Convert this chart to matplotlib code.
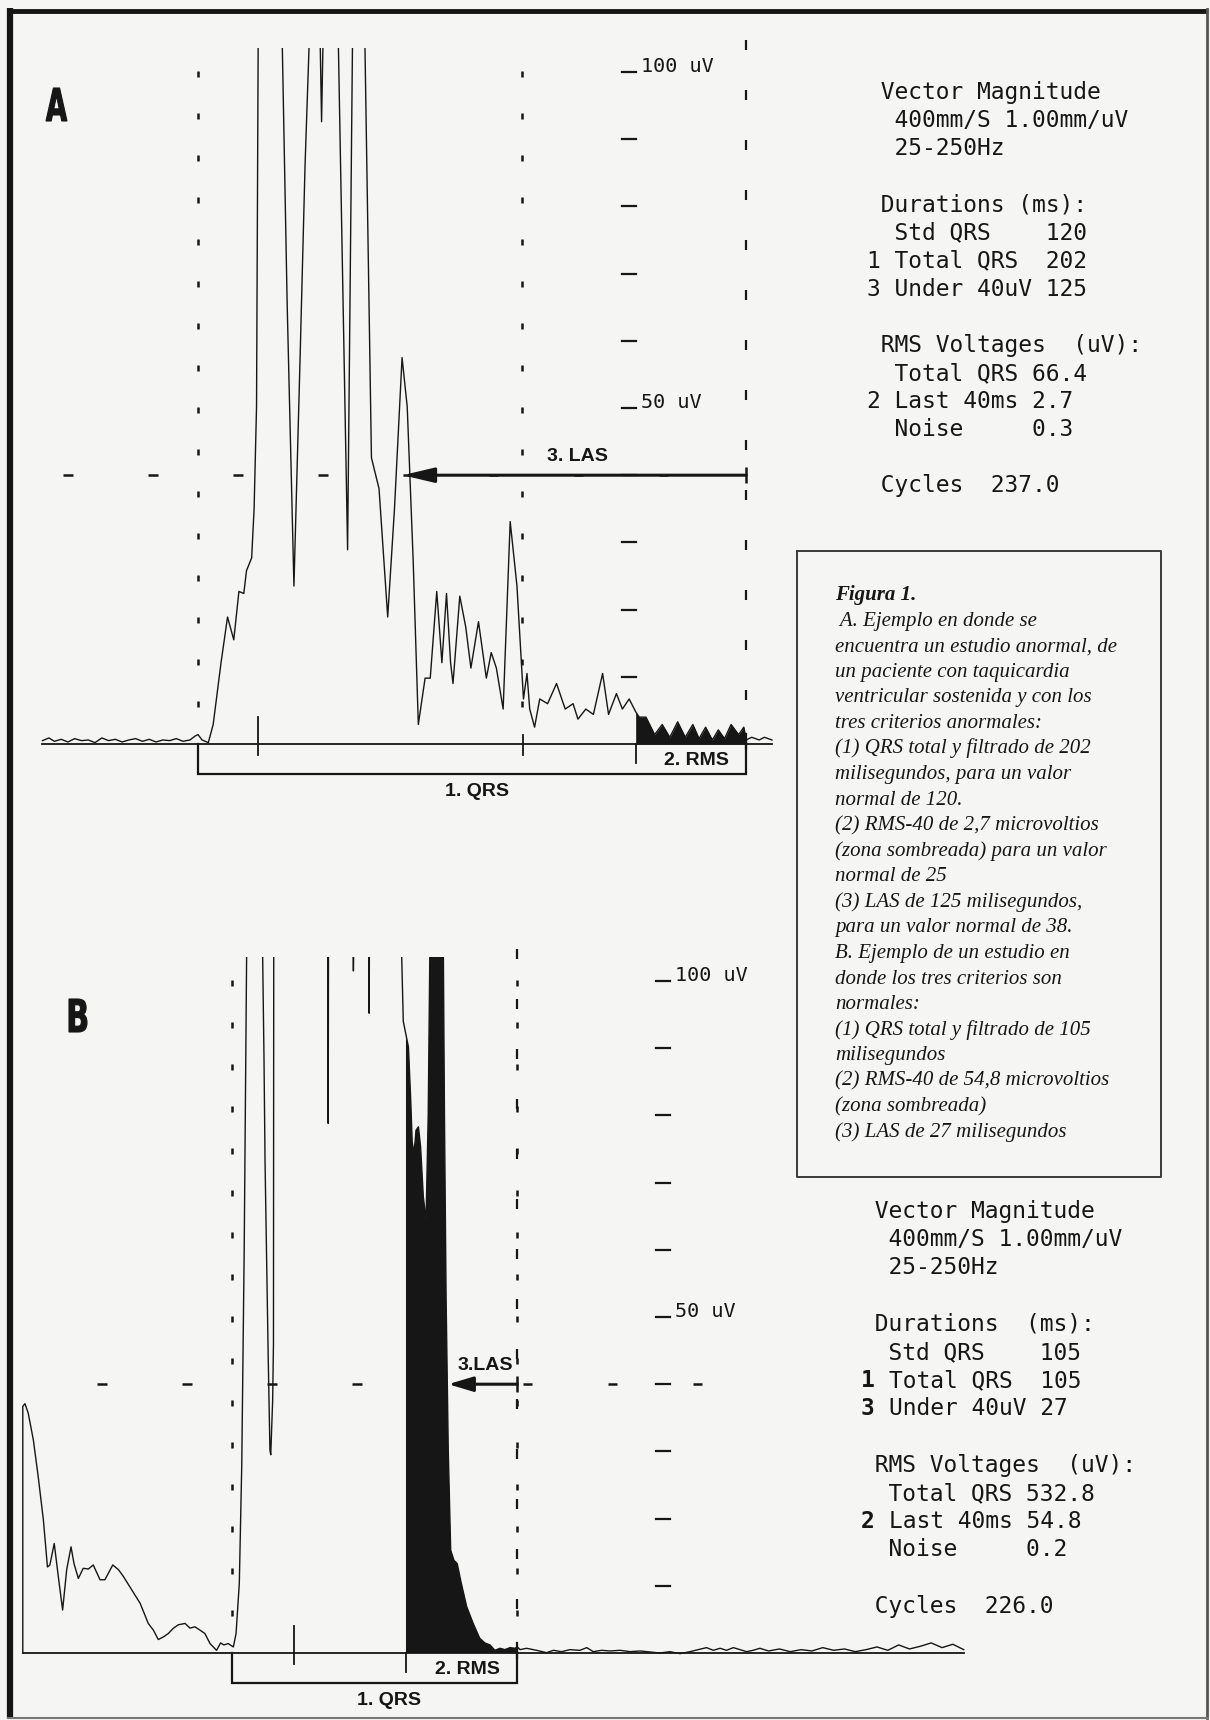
import numpy as np
import matplotlib
matplotlib.use('Agg')
import matplotlib.pyplot as plt
from matplotlib.textpath import TextPath
from matplotlib.patches import PathPatch
from matplotlib.font_manager import FontProperties
from matplotlib.transforms import Affine2D

###############################################################################
# Data (time in ms from QRS onset, voltage in uV)
# 400 uV marks a point that runs off the top of the chart.

trace_a = [(-57.4, 0.5), (-55, 0.9), (-53, 0.4), (-50.5, 0.7), (-48, 0.3), (-45.5, 0.8),
           (-43, 0.5), (-40.5, 0.6), (-38, 0.2), (-35.5, 0.9), (-33, 0.5), (-30.5, 0.7),
           (-28, 0.3), (-25.5, 0.6), (-23, 0.8), (-20.5, 0.4), (-18, 0.7), (-15.5, 0.3),
           (-13, 0.6), (-10.5, 0.5), (-8, 0.8), (-5.5, 0.4), (-3, 0.6), (-1, 1.2), (0, 1.4),
           (1.5, 0.6), (3.8, 0.2), (5.6, 2.9), (8.5, 12.1), (10.9, 18.9), (13.2, 15.5),
           (15.1, 22.7), (16.9, 22.4), (17.9, 25.8), (19.8, 27.7), (20.7, 35.0), (21.6, 50.2),
           (22.2, 104), (26.6, 400), (31.1, 104), (32.9, 65.5), (35.4, 23.5), (37.7, 57.9),
           (39.5, 86.1), (41.0, 104), (43.0, 400), (45.1, 104), (45.6, 92.6), (46.1, 104),
           (49.0, 400), (51.8, 104), (55.2, 28.9), (57.0, 104), (59.3, 400), (61.6, 104),
           (64.0, 42.6), (66.8, 38.0), (70.0, 18.9), (72.5, 35.0), (75.3, 57.5), (77.2, 50.2),
           (79.4, 27.3), (81.3, 2.9), (83.8, 9.8), (85.7, 9.8), (88.1, 22.7), (90.0, 12.1),
           (91.7, 22.4), (93.2, 12.1), (94.1, 9.0), (96.6, 22.0), (98.8, 17.4), (100.7, 11.3),
           (103.5, 18.2), (106.4, 9.8), (108.2, 13.6), (110.1, 11.3), (112.6, 5.2), (115.2, 33.1),
           (117.7, 23.5), (120.1, 6.7), (121.4, 10.5), (122.4, 5.2), (124.2, 2.5), (126.1, 6.7),
           (129.0, 6.0), (132.3, 9.0), (135.5, 5.2), (138.4, 6.0), (140.2, 3.7), (143.1, 5.2),
           (145.9, 4.4), (149.3, 10.5), (151.5, 4.4), (154.4, 7.5), (156.6, 5.2), (159.1, 6.7),
           (161.5, 4.8), (162.8, 4.0), (165.3, 4.0), (168.5, 1.4), (171.3, 2.9), (174.1, 1.0),
           (177.0, 3.3), (179.8, 1.0), (182.6, 2.9), (184.9, 0.8), (187.3, 2.5), (189.8, 0.6),
           (192.0, 2.1), (194.3, 0.8), (196.7, 2.9), (199.5, 1.4), (201.4, 2.5), (202.3, 0.6),
           (204.3, 1.0), (207.1, 0.6), (209.0, 1.0), (211.8, 0.6)]

trace_b = [(-77.2, 0.0), (-77.2, 36.7), (-76.4, 37.1), (-75.2, 35.7), (-73.3, 31.7), (-71.5, 26.2),
           (-69.6, 19.8), (-68.1, 12.8), (-67.2, 13.1), (-65.6, 16.3), (-64.1, 11.4), (-62.5, 6.4),
           (-61.0, 12.4), (-59.4, 15.8), (-58.3, 13.3), (-56.7, 11.1), (-54.9, 12.6), (-53.0, 12.5),
           (-51.2, 13.1), (-48.7, 10.9), (-46.9, 10.9), (-44.0, 13.1), (-41.9, 12.4), (-40.1, 11.4),
           (-37.0, 9.4), (-33.9, 7.4), (-30.9, 4.4), (-29.0, 3.4), (-27.2, 2.0), (-25.3, 2.4),
           (-23.5, 2.9), (-21.6, 3.7), (-19.8, 4.2), (-17.3, 4.4), (-15.5, 3.7), (-13.7, 3.9),
           (-11.8, 3.4), (-10.0, 2.9), (-8.1, 1.4), (-5.7, 0.4), (-4.2, 1.5), (-3.0, 1.2),
           (-1.4, 1.4), (0.5, 0.9), (1.5, 2.9), (2.7, 10.4), (3.6, 28.0), (4.5, 60.0), (5.0, 85.0),
           (5.4, 104), (8.3, 400), (11.3, 104), (11.8, 88.7), (12.2, 72.9), (12.8, 58.0),
           (13.4, 43.1), (14.0, 30.2), (14.3, 29.5), (15.0, 37.6), (15.3, 46.0), (15.4, 104),
           (25.0, 400), (35.4, 104), (35.5, 78.8), (35.6, 104), (40.0, 400), (44.7, 104),
           (44.8, 101.5), (44.9, 104), (47.7, 400), (50.5, 104), (50.6, 95.2), (50.7, 104),
           (56.5, 400), (62.6, 104), (63.2, 94.0), (64.2, 92.0), (65.1, 90.2), (65.9, 82.8),
           (66.5, 76.0), (67.2, 74.4), (67.9, 77.8), (68.8, 78.3), (69.6, 75.3), (70.6, 67.9),
           (71.6, 64.4), (72.4, 80.0), (73.0, 104), (75.5, 400), (78.0, 104), (78.4, 80.0),
           (79.0, 53.0), (79.8, 30.2), (80.7, 15.3), (81.9, 13.8), (83.1, 13.3),
           (84.6, 10.4), (86.6, 6.9), (89.0, 4.4), (91.4, 2.2), (93.3, 1.5), (95.2, 1.2),
           (97.0, 0.4), (98.9, 0.7), (100.7, 0.5), (102.6, 0.8), (104.4, 0.7), (105.3, 0.9),
           (106.3, 0.5), (108.7, 0.7), (112.4, 0.4), (116.1, 0.05), (118.6, 0.4), (121.6, 0.2),
           (124.7, 0.5), (128.4, 0.4), (130.9, 0.8), (133.3, 0.2), (136.4, 0.4), (139.5, 0.3),
           (143.2, 0.4), (146.9, 0.2), (150.6, 0.3), (154.2, 0.15), (157.9, 0.0), (161.6, 0.2),
           (165.3, -0.1), (169.0, 0.2), (172.1, 0.5), (175.1, 0.8), (177.6, 0.4), (180.1, 0.7),
           (182.5, 0.4), (185.0, 0.8), (187.5, 0.5), (189.9, 0.2), (192.3, 0.4), (194.8, 0.7),
           (198, 0.3), (202, 0.6), (206, 0.2), (210, 0.5), (214, 0.3), (218, 0.8), (222, 0.4),
           (226, 0.6), (230, 0.2), (234, 0.5), (238, 0.9), (242, 0.4), (246, 1.2), (250, 0.6),
           (254, 1.0), (258, 1.5), (262, 0.8), (266, 1.3), (270, 0.5)]

# QRS landmarks (ms from onset)
a_qrs_end, a_std_end, a_rms_start, a_las_tip = 202.3, 119.5, 161.5, 75.5
b_qrs_end, b_std_end, b_rms_start, b_las_tip = 105.3, 105.0, 64.2, 79.8
a_marks = [22.2, 119.9]
b_marks = [22.9]

scale_ticks = [10, 20, 30, 40, 50, 60, 70, 80, 90, 100]
scale_labels = {100: '100 uV', 50: '50 uV'}

a_stats = [" Vector Magnitude", "  400mm/S 1.00mm/uV", "  25-250Hz", "",
           " Durations (ms):", "  Std QRS    120", "1 Total QRS  202", "3 Under 40uV 125", "",
           " RMS Voltages  (uV):", "  Total QRS 66.4", "2 Last 40ms 2.7", "  Noise     0.3", "",
           " Cycles  237.0"]
b_stats = [" Vector Magnitude", "  400mm/S 1.00mm/uV", "  25-250Hz", "",
           " Durations  (ms):", "  Std QRS    105", "1 Total QRS  105", "3 Under 40uV 27", "",
           " RMS Voltages  (uV):", "  Total QRS 532.8", "2 Last 40ms 54.8", "  Noise     0.2", "",
           " Cycles  226.0"]

caption = ["Figura 1.",
           " A. Ejemplo en donde se",
           "encuentra un estudio anormal, de",
           "un paciente con taquicardia",
           "ventricular sostenida y con los",
           "tres criterios anormales:",
           "(1) QRS total y filtrado de 202",
           "milisegundos, para un valor",
           "normal de 120.",
           "(2) RMS-40 de 2,7 microvoltios",
           "(zona sombreada) para un valor",
           "normal de 25",
           "(3) LAS de 125 milisegundos,",
           "para un valor normal de 38.",
           "B. Ejemplo de un estudio en",
           "donde los tres criterios son",
           "normales:",
           "(1) QRS total y filtrado de 105",
           "milisegundos",
           "(2) RMS-40 de 54,8 microvoltios",
           "(zona sombreada)",
           "(3) LAS de 27 milisegundos"]

###############################################################################
# Page setup (pixel layout of the scan)

W, H = 1210, 1720
PX_MS = 2.71      # pixels per ms
PX_UV = 6.72      # pixels per uV
PAPER = '#f5f5f3'
INK = '#161616'
MONO = 'DejaVu Sans Mono'
MONO_SIZE = 16.5
CHAR_PX = 0.602 * MONO_SIZE * 100 / 72   # advance of one mono character

fig = plt.figure(figsize=(W / 100, H / 100), dpi=100)
fig.patch.set_facecolor(PAPER)

pg = fig.add_axes([0, 0, 1, 1])
pg.set_xlim(0, W)
pg.set_ylim(H, 0)
pg.axis('off')


def panel_axes(onset_px, base_px, top_px, bottom_px):
    ax = fig.add_axes([0, 1 - bottom_px / H, 1, (bottom_px - top_px) / H])
    ax.set_xlim(-onset_px / PX_MS, (W - onset_px) / PX_MS)
    ax.set_ylim((base_px - bottom_px) / PX_UV, (base_px - top_px) / PX_UV)
    ax.axis('off')
    ax.patch.set_alpha(0)
    return ax


def draw_panel(ax, trace, qrs_end, std_end, rms_start, las_tip, marks,
               las_text, qrs_label_x, head_len):
    t, v = np.array(trace).T
    # signal, clipped at the top of the chart
    ax.plot(t, v, color=INK, lw=1.0, solid_joinstyle='round', zorder=4)
    shade = (t >= rms_start - 1e-6) & (t <= qrs_end + 1e-6)
    ax.fill_between(t, v, 0, where=shade, color=INK, lw=0, zorder=4)
    # baseline
    ax.plot([t[0], t[-1]], [0, 0], color=INK, lw=1.3, clip_on=False, zorder=3)

    # onset and standard QRS dotted lines
    dots = np.arange(100.2, 0.5, -6.25)
    for x in (0, std_end):
        ax.vlines(np.full_like(dots, x), dots - 0.9, dots, color=INK, lw=1.8, clip_on=False)
    # QRS end dashed line
    dashes = np.arange(104.8, 0.5, -7.44)
    ax.vlines(np.full_like(dashes, qrs_end), dashes - 1.5, dashes, color=INK, lw=1.6,
              clip_on=False)

    # 40 uV dashes
    hx = np.arange(-48, 175, 31.4)
    ax.hlines(np.full_like(hx, 40), hx - 1.8, hx + 1.8, color=INK, lw=1.8, clip_on=False)

    # voltage scale
    for y in scale_ticks:
        ax.plot([156.3, 161.8], [y, y], color=INK, lw=1.6, clip_on=False)
        if y in scale_labels:
            ax.text(163.5, y, scale_labels[y], family=MONO, fontsize=14.5,
                    color=INK, ha='left', va='baseline')

    # small marks on the baseline
    for m in marks:
        ax.plot([m, m], [-1.7, 4.0 if m < 50 else 1.4], color=INK, lw=1.3, clip_on=False)

    # 1. QRS bracket and 2. RMS box
    ax.plot([0, 0, qrs_end, qrs_end], [0, -4.5, -4.5, 1.5], color=INK, lw=1.6,
            clip_on=False, solid_joinstyle='miter')
    ax.plot([rms_start, rms_start], [0, -2.9], color=INK, lw=1.3, clip_on=False)
    ax.text(qrs_label_x, -7.0, '1. QRS', fontsize=14, family='Liberation Sans',
            weight='bold', color=INK, ha='center', va='center')
    ax.text((rms_start + qrs_end) / 2 + 2, -2.4, '2. RMS', fontsize=14,
            family='Liberation Sans', weight='bold', color=INK, ha='center', va='center')

    # 3. LAS arrow
    ax.annotate('', xy=(las_tip, 40), xytext=(qrs_end, 40),
                arrowprops=dict(arrowstyle='-|>,head_length=%.2f,head_width=0.45' % head_len,
                                lw=2.2, color=INK, shrinkA=0, shrinkB=0,
                                mutation_scale=10), annotation_clip=False, zorder=5)
    ax.vlines(qrs_end, 38.8, 41.2, color=INK, lw=1.8, clip_on=False)
    ax.text((las_tip + qrs_end) / 2 + 1, 41.5, las_text, fontsize=14,
            family='Liberation Sans', weight='bold', color=INK, ha='center', va='bottom')


axA = panel_axes(198, 744, 48, 800)
draw_panel(axA, trace_a, a_qrs_end, a_std_end, a_rms_start, a_las_tip, a_marks,
           '3. LAS', 103, 1.9)

axB = panel_axes(232, 1653, 957, 1712)
draw_panel(axB, trace_b, b_qrs_end, b_std_end, b_rms_start, b_las_tip, b_marks,
           '3.LAS', 58, 1.5)

###############################################################################
# Printout text blocks


def stats_block(lines, x0, y0, step, bold_digits):
    for i, line in enumerate(lines):
        if not line:
            continue
        y = y0 + i * step
        x = x0
        if bold_digits and line[0].isdigit():
            pg.text(x0, y, line[0], family=MONO, fontsize=MONO_SIZE, weight='bold',
                    color=INK, ha='left', va='baseline')
            line = line[2:]
            x = x0 + 2 * CHAR_PX
        pg.text(x, y, line, family=MONO, fontsize=MONO_SIZE, color=INK,
                ha='left', va='baseline')


stats_block(a_stats, 867, 99, 28.1, False)
stats_block(b_stats, 861, 1218, 28.2, True)

# caption box
pg.plot([797, 1161, 1161, 797, 797], [551, 551, 1177, 1177, 551], color='#3a3a3a', lw=1.4)
for i, line in enumerate(caption):
    pg.text(835, 600 + i * 25.57, line, family='Liberation Serif', style='italic',
            weight='bold' if i == 0 else 'normal', fontsize=15, color=INK,
            ha='left', va='baseline')


# heavy condensed panel letters
def panel_letter(ch, x0, y_bottom, w, h):
    tp = TextPath((0, 0), ch, size=10, prop=FontProperties(family='DejaVu Sans', weight='bold'))
    bb = tp.get_extents()
    tr = (Affine2D().translate(-bb.x0, -bb.y0).scale(w / bb.width, -h / bb.height)
          .translate(x0, y_bottom))
    pg.add_patch(PathPatch(tp, transform=tr + pg.transData, color=INK, lw=0.8))


panel_letter('A', 46, 121, 21, 33)
panel_letter('B', 69, 1032, 18, 33)

# scan frame
pg.plot([10, 10], [8, 1718], color=INK, lw=4.5, solid_capstyle='butt')
pg.plot([7, 1208], [11, 11], color=INK, lw=3.5, solid_capstyle='butt')
pg.plot([1207, 1207], [9, 1718], color='#555555', lw=2.0)
pg.plot([8, 1208], [1718, 1718], color='#777777', lw=1.5)

fig.savefig('out.png', dpi=100, facecolor=fig.get_facecolor())
